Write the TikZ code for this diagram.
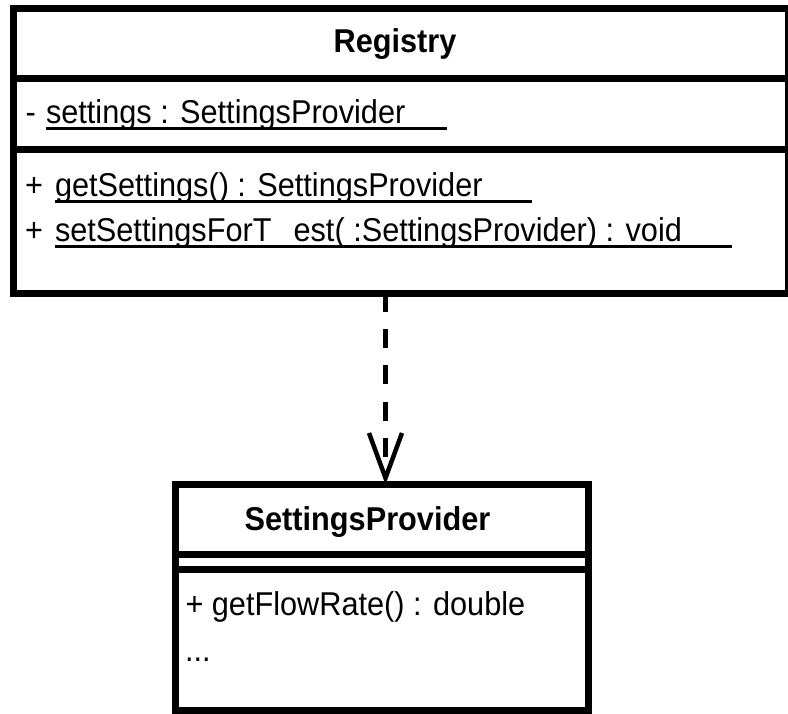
\documentclass[tikz,border=0pt]{standalone}
\usepackage{fontspec}
\setmainfont{Liberation Sans}[FakeStretch=0.93]
\newcommand\umlul[2]{\rlap{\rule[-6.5pt]{#1}{3pt}}#2}
\tikzset{
  umlbox/.style={draw, line width=7pt, rectangle, inner sep=0pt, outer sep=0pt, line join=miter},
  sepline/.style={line width=7pt},
  txt/.style={inner sep=0pt, outer sep=0pt, anchor=base west, font=\fontsize{33}{40}\selectfont},
  ttl/.style={inner sep=0pt, outer sep=0pt, anchor=base, font=\fontsize{33}{40}\selectfont\bfseries},
  depline/.style={line width=5.5pt, dash pattern=on 19pt off 17pt},
  openhead/.style={line width=4.5pt, line join=miter}
}
\begin{document}
\begin{tikzpicture}[x=1pt,y=-1pt]
\useasboundingbox (0,0) rectangle (788,714);
% Registry class
\node[umlbox, minimum width=775.2pt, minimum height=285.2pt] (reg) at (400.9,150.9) {};
\coordinate (rs1) at (0,78.3);
\coordinate (rs2) at (0,150);
\draw[sepline] (reg.west |- rs1) -- (reg.east |- rs1);
\draw[sepline] (reg.west |- rs2) -- (reg.east |- rs2);
\node[ttl] (regtitle) at (395,53) {Registry};
\node[txt] (vis1) at (25.5,124) {-};
\node[txt] (attr1) at (46,124) {\umlul{401pt}{settings : SettingsProvider}};
\node[txt] (vis2) at (25,197) {+};
\node[txt] (op1) at (55,197) {\umlul{477pt}{getSettings() : SettingsProvider}};
\node[txt] (vis3) at (25,242) {+};
\node[txt] (op2) at (55,242) {\umlul{677pt}{setSettingsForT\hspace{22pt}est( :SettingsProvider) : void}};
% SettingsProvider class
\node[umlbox, minimum width=413pt, minimum height=226.5pt] (sp) at (381.5,597.25) {};
\coordinate (ss1) at (0,554.5);
\coordinate (ss2) at (0,569.5);
\draw[sepline] (sp.west |- ss1) -- (sp.east |- ss1);
\draw[sepline] (sp.west |- ss2) -- (sp.east |- ss2);
\node[ttl] (sptitle) at (367.5,530) {SettingsProvider};
\node[txt] (spop1) at (185.5,615) {+ getFlowRate() : double};
\node[txt] (spdots) at (185,661) {...};
% dependency
\coordinate (cx) at (385.5,0);
\coordinate (tip) at (385.5,478);
\coordinate (w1) at (369,433);
\coordinate (w2) at (402,433);
\draw[depline] (reg.south -| cx) -- (tip);
\draw[openhead] (w1) -- (tip) -- (w2);
\end{tikzpicture}
\end{document}
